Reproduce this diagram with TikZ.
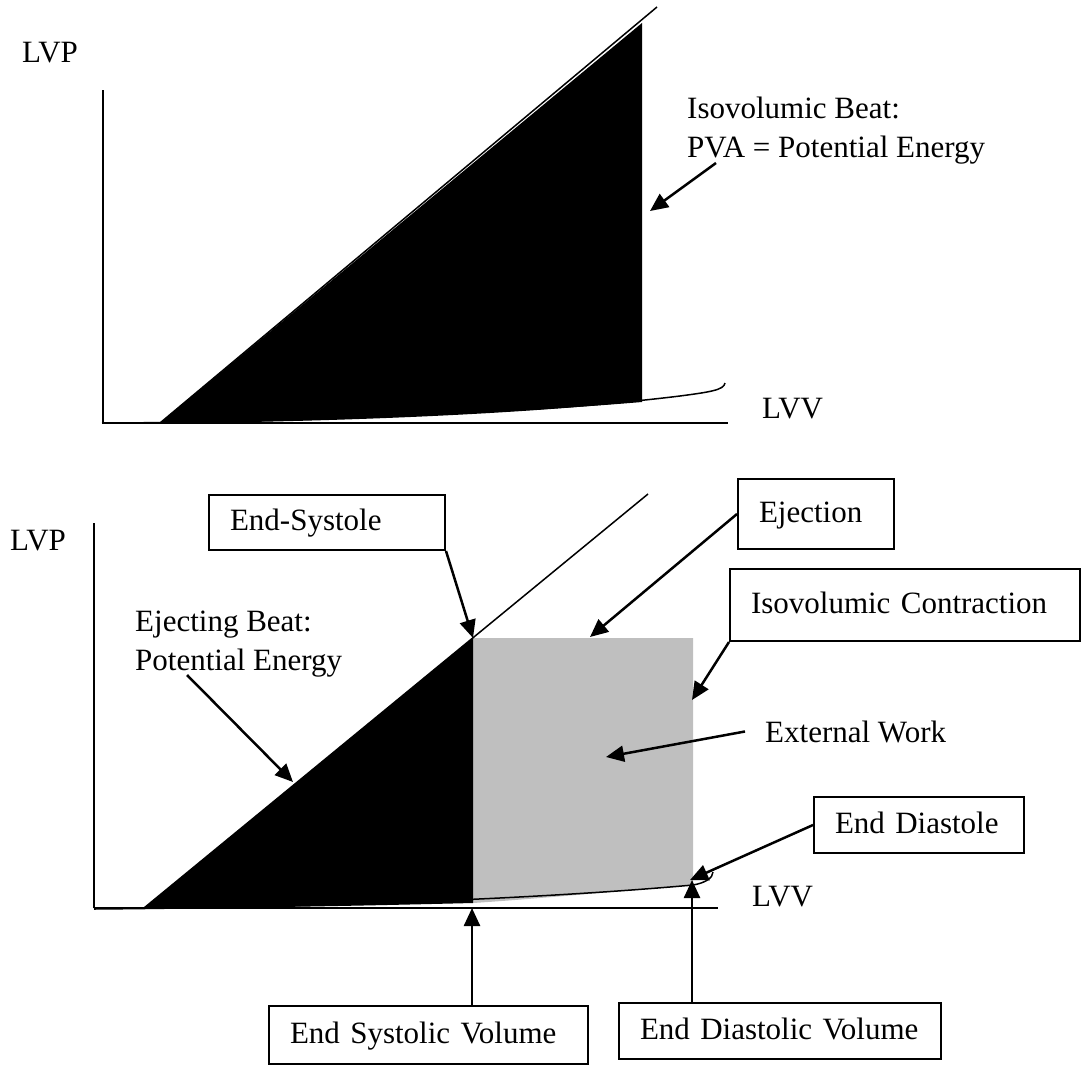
\documentclass[tikz,border=0pt]{standalone}
\usepackage{fontspec}
\setmainfont{Liberation Serif}
\usetikzlibrary{arrows.meta}
\begin{document}
\begin{tikzpicture}[x=1pt,y=-1pt,
  font=\fontsize{31}{39}\selectfont,
  lbl/.style={inner sep=0pt, anchor=base west, align=left},
  lbox/.style={draw, line width=2pt, anchor=north west, align=left, inner xsep=21pt, inner ysep=0pt, text height=23pt, text depth=7pt},
  axis/.style={line width=2pt},
  curveline/.style={line width=1.5pt},
  ptr/.style={line width=2.5pt, -{Triangle[length=18pt,width=16pt]}},
]
\useasboundingbox (0,0) rectangle (1081,1065);

% ---------- top graph ----------
\draw[axis] (103,90) -- (103,423);
\draw[axis] (102,423) -- (728,423);
\fill (160,423) -- (642,23) -- (642,402) .. controls (500,414) and (300,422) .. (160,423) -- cycle;
\draw[curveline] (160,423) -- (657,7);
\draw[curveline] (102,423) .. controls (350,422) and (550,412) .. (680,396) .. controls (710,392) and (724,390) .. (725,383);

\node[lbl] (lvpA) at (22,63) {LVP};
\node[lbl] (lvvA) at (762,418) {LVV};
\node[lbl] (ivb) at (687,157) {Isovolumic Beat:\\PVA = Potential Energy};
\coordinate (ivbT) at (716,163);
\coordinate (ivbH) at (650,211);
\draw[ptr] (ivbT) -- (ivbH);

% ---------- bottom graph ----------
\draw[axis] (94,523) -- (94,908);
\draw[axis] (94,908) -- (718,908);
\fill[black!25] (473,638) -- (693,638) -- (693,885) .. controls (600,893) and (520,900) .. (473,903) -- cycle;
\fill (144,908) -- (473,638) -- (473,903) .. controls (350,906) and (250,908) .. (144,908) -- cycle;
\draw[curveline] (144,908) -- (648,494);
\draw[curveline] (94,909) .. controls (350,907) and (560,897) .. (693,885) .. controls (705,883) and (713,878) .. (713,872);

\node[lbl] (lvpB) at (10,550) {LVP};
\node[lbl] (lvvB) at (752,906) {LVV};
\node[lbl] (ejb) at (135,670) {Ejecting Beat:\\Potential Energy};
\node[lbl] (ew) at (765,742) {External Work};

\node[lbox, minimum width=236pt, minimum height=55pt, text width=194pt] (es) at (208,494) {\mbox{End-Systole}};
\node[lbox, minimum width=156pt, minimum height=70pt, text width=114pt] (ej) at (737,478) {\mbox{Ejection}};
\node[lbox, minimum width=350pt, minimum height=72pt, text width=308pt] (ic) at (729,568) {\mbox{Isovolumic Contraction}};
\node[lbox, minimum width=210pt, minimum height=56pt, text width=168pt] (ed) at (813,796) {\mbox{End Diastole}};
\node[lbox, minimum width=319pt, minimum height=58pt, text width=277pt] (esv) at (268,1005) {\mbox{End Systolic Volume}};
\node[lbox, minimum width=322pt, minimum height=56pt, text width=280pt] (edv) at (618,1002) {\mbox{End Diastolic Volume}};

\coordinate (ejbT) at (187,675);
\coordinate (ejbH) at (293,782);
\coordinate (esP) at (473,638);
\coordinate (ejP) at (590,637);
\coordinate (icP) at (692,700);
\coordinate (ewP) at (606,757);
\coordinate (edP) at (690,880);
\coordinate (esvP) at (472,908);
\coordinate (edvP) at (692,880);

\draw[ptr] (ejbT) -- (ejbH);
\draw[ptr] (es.south east) -- (esP);
\draw[ptr] (ej.west) -- (ejP);
\draw[ptr] (ic.south west) -- (icP);
\draw[ptr] ([xshift=-20pt]ew.west) -- (ewP);
\draw[ptr] (ed.west) -- (edP);
\draw[ptr] (esv.north -| esvP) -- (esvP);
\draw[ptr] (edv.north -| edvP) -- (edvP);
\end{tikzpicture}
\end{document}
